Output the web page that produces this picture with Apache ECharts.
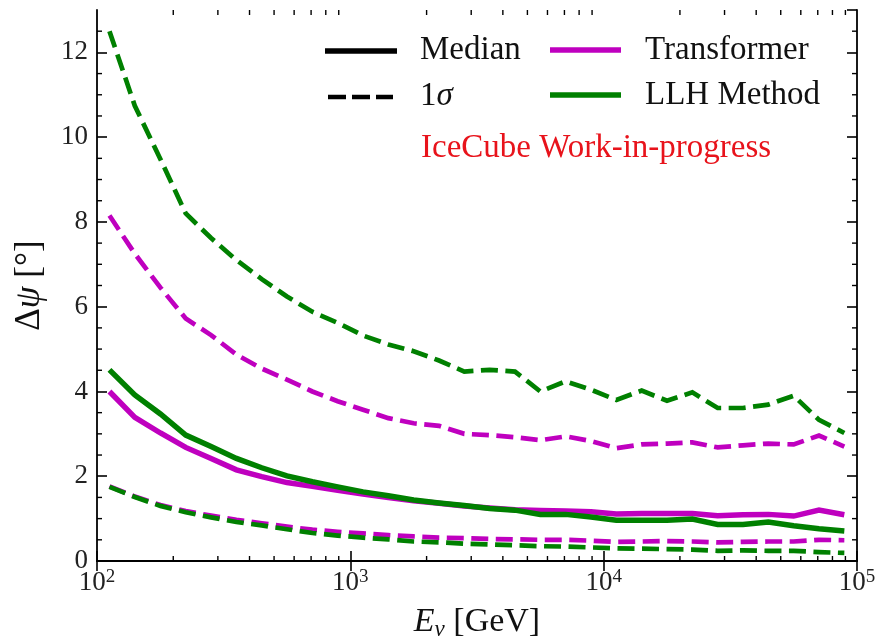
<!DOCTYPE html>
<html>
<head>
<meta charset="utf-8">
<script src="https://cdn.jsdelivr.net/npm/echarts@6/dist/echarts.min.js"></script>
<style>
  html, body { margin: 0; padding: 0; background: #ffffff; }
  #chart { width: 879px; height: 638px; }
</style>
</head>
<body>
<div id="chart"></div>
<script>
// Neutrino energy bin centres [GeV]
const energy = [112, 141, 178, 224, 282, 355, 447, 562, 708, 891,
  1122, 1413, 1778, 2239, 2818, 3548, 4467, 5623, 7079, 8913,
  11220, 14125, 17783, 22387, 28184, 35481, 44668, 56234, 70795, 89125];

// Transformer: median and 1-sigma band edges of the opening angle [deg]
const transformerMedian = [4.00, 3.39, 3.02, 2.68, 2.42, 2.15, 1.99, 1.85, 1.76, 1.67,
  1.58, 1.50, 1.42, 1.36, 1.30, 1.25, 1.21, 1.19, 1.18, 1.16,
  1.11, 1.12, 1.12, 1.12, 1.07, 1.09, 1.10, 1.06, 1.20, 1.09];
const transformerUpper = [8.15, 7.25, 6.45, 5.72, 5.33, 4.87, 4.54, 4.28, 4.00, 3.77,
  3.57, 3.37, 3.25, 3.19, 3.00, 2.97, 2.92, 2.85, 2.94, 2.83,
  2.66, 2.75, 2.77, 2.80, 2.68, 2.73, 2.77, 2.75, 2.96, 2.70];
const transformerLower = [1.76, 1.52, 1.32, 1.18, 1.07, 0.97, 0.89, 0.81, 0.74, 0.69,
  0.65, 0.61, 0.58, 0.55, 0.54, 0.52, 0.51, 0.50, 0.50, 0.48,
  0.45, 0.46, 0.47, 0.46, 0.44, 0.45, 0.46, 0.46, 0.50, 0.49];

// LLH method: median and 1-sigma band edges [deg]
const llhMedian = [4.51, 3.92, 3.47, 2.97, 2.70, 2.42, 2.20, 2.01, 1.87, 1.75,
  1.63, 1.54, 1.44, 1.37, 1.31, 1.24, 1.20, 1.10, 1.10, 1.04,
  0.96, 0.96, 0.96, 0.99, 0.86, 0.86, 0.92, 0.83, 0.76, 0.71];
const llhUpper = [12.50, 10.74, 9.48, 8.20, 7.62, 7.10, 6.65, 6.24, 5.88, 5.62,
  5.32, 5.11, 4.95, 4.73, 4.47, 4.51, 4.47, 4.00, 4.24, 4.04,
  3.80, 4.02, 3.78, 3.98, 3.61, 3.61, 3.69, 3.90, 3.33, 3.02];
const llhLower = [1.75, 1.51, 1.30, 1.15, 1.03, 0.92, 0.84, 0.75, 0.66, 0.60,
  0.55, 0.51, 0.46, 0.44, 0.41, 0.39, 0.37, 0.35, 0.34, 0.32,
  0.30, 0.29, 0.28, 0.27, 0.24, 0.25, 0.24, 0.24, 0.21, 0.19];

// Minor tick positions
const xMinorTicks = [200, 300, 400, 500, 600, 700, 800, 900,
  2000, 3000, 4000, 5000, 6000, 7000, 8000, 9000,
  20000, 30000, 40000, 50000, 60000, 70000, 80000, 90000];
const yMinorTicks = [0.5, 1, 1.5, 2.5, 3, 3.5, 4.5, 5, 5.5, 6.5, 7, 7.5,
  8.5, 9, 9.5, 10.5, 11, 11.5, 12.5];

const SERIF = '"Liberation Serif", "DejaVu Serif", serif';
const MAGENTA = '#bf00bf';
const GREEN = '#008000';
const LW_SOLID = 5.5;
const LW_DASH = 4.7;
const DASH = [17, 7.5];

function pairs(ys) { return energy.map((e, i) => [e, ys[i]]); }

function lineSeries(name, ys, color, dashed) {
  return {
    name: name,
    type: 'line',
    data: pairs(ys),
    showSymbol: false,
    symbol: 'none',
    smooth: false,
    silent: true,
    animation: false,
    lineStyle: {
      color: color,
      width: dashed ? LW_DASH : LW_SOLID,
      type: dashed ? DASH : 'solid',
      cap: 'butt',
      join: 'miter'
    },
    z: 3
  };
}

const axisLine = { show: true, lineStyle: { color: '#000', width: 1.8 } };

const chart = echarts.init(document.getElementById('chart'), null, { renderer: 'canvas' });

chart.setOption({
  backgroundColor: '#ffffff',
  animation: false,
  grid: { left: 97, right: 22, top: 10, bottom: 77, containLabel: false, outerBoundsMode: 'none' },
  xAxis: [
    {
      type: 'log', logBase: 10, min: 100, max: 100000,
      position: 'bottom',
      axisLine: axisLine,
      axisTick: { show: true, inside: true, length: 10, lineStyle: { color: '#000', width: 1.6 } },
      splitLine: { show: false },
      axisLabel: {
        margin: 7,
        formatter: v => '{b|10}{s|' + Math.round(Math.log10(v)) + '}',
        rich: {
          b: { fontFamily: SERIF, fontSize: 27, color: '#222', lineHeight: 30 },
          s: { fontFamily: SERIF, fontSize: 19, color: '#222', lineHeight: 19, verticalAlign: 'top' }
        }
      },
      name: '{i|E}{sub|ν}{n| [GeV]}',
      nameLocation: 'middle',
      nameGap: 42,
      nameTextStyle: {
        rich: {
          i: { fontFamily: SERIF, fontStyle: 'italic', fontSize: 34, color: '#111', lineHeight: 38 },
          sub: { fontFamily: SERIF, fontStyle: 'italic', fontSize: 23, color: '#111', lineHeight: 23, verticalAlign: 'bottom' },
          n: { fontFamily: SERIF, fontSize: 34, color: '#111', lineHeight: 38 }
        }
      }
    },
    {
      type: 'log', logBase: 10, min: 100, max: 100000,
      position: 'top',
      axisLine: axisLine,
      axisTick: { show: true, inside: true, length: 10, lineStyle: { color: '#000', width: 1.6 } },
      axisLabel: { show: false },
      splitLine: { show: false }
    }
  ],
  yAxis: [
    {
      type: 'value', min: 0, max: 13, interval: 2,
      position: 'left',
      axisLine: axisLine,
      axisTick: { show: true, inside: true, length: 10, lineStyle: { color: '#000', width: 1.6 } },
      splitLine: { show: false },
      axisLabel: {
        margin: 9, showMaxLabel: false,
        fontFamily: SERIF, fontSize: 27, color: '#222'
      },
      name: '{d|Δ}{p|ψ}{n| [°]}',
      nameLocation: 'middle',
      nameRotate: 90,
      nameGap: 50,
      nameTextStyle: {
        rich: {
          d: { fontFamily: SERIF, fontSize: 35, color: '#111' },
          p: { fontFamily: SERIF, fontStyle: 'italic', fontSize: 35, color: '#111' },
          n: { fontFamily: SERIF, fontSize: 35, color: '#111' }
        }
      }
    },
    {
      type: 'value', min: 0, max: 13, interval: 2,
      position: 'right',
      axisLine: axisLine,
      axisTick: { show: true, inside: true, length: 10, lineStyle: { color: '#000', width: 1.6 } },
      axisLabel: { show: false },
      splitLine: { show: false }
    }
  ],
  series: [
    lineSeries('Transformer 1σ upper', transformerUpper, MAGENTA, true),
    lineSeries('Transformer median', transformerMedian, MAGENTA, false),
    lineSeries('Transformer 1σ lower', transformerLower, MAGENTA, true),
    lineSeries('LLH 1σ upper', llhUpper, GREEN, true),
    lineSeries('LLH median', llhMedian, GREEN, false),
    lineSeries('LLH 1σ lower', llhLower, GREEN, true),
    {
      // minor ticks on the bottom and top frame edges (log spaced)
      type: 'custom',
      silent: true,
      animation: false,
      clip: false,
      data: xMinorTicks.map(v => [v, 1]),
      renderItem: (params, api) => {
        const cs = params.coordSys;
        const px = api.coord([api.value(0), 1])[0];
        const st = { stroke: '#000', lineWidth: 1.4 };
        return {
          type: 'group',
          children: [
            { type: 'line', shape: { x1: px, y1: cs.y + cs.height, x2: px, y2: cs.y + cs.height - 5 }, style: st },
            { type: 'line', shape: { x1: px, y1: cs.y, x2: px, y2: cs.y + 5 }, style: st }
          ]
        };
      },
      z: 4
    },
    {
      // minor ticks on the left and right frame edges
      type: 'custom',
      silent: true,
      animation: false,
      clip: false,
      data: yMinorTicks.map(v => [1000, v]),
      renderItem: (params, api) => {
        const cs = params.coordSys;
        const py = api.coord([1000, api.value(1)])[1];
        const st = { stroke: '#000', lineWidth: 1.4 };
        return {
          type: 'group',
          children: [
            { type: 'line', shape: { x1: cs.x, y1: py, x2: cs.x + 5, y2: py }, style: st },
            { type: 'line', shape: { x1: cs.x + cs.width, y1: py, x2: cs.x + cs.width - 5, y2: py }, style: st }
          ]
        };
      },
      z: 4
    }
  ],
  graphic: [
    // legend: line styles
    { type: 'line', shape: { x1: 325, y1: 51, x2: 397, y2: 51 }, style: { stroke: '#000', lineWidth: LW_SOLID } },
    { type: 'line', shape: { x1: 328, y1: 97, x2: 393, y2: 97 }, style: { stroke: '#000', lineWidth: LW_DASH, lineDash: [18, 6] } },
    { type: 'text', left: 420, top: 34, style: { text: 'Median', font: '33px ' + SERIF, fill: '#111' } },
    {
      type: 'text', left: 420, top: 80,
      style: {
        text: '{a|1}{b|σ}',
        rich: {
          a: { font: '33px ' + SERIF, fill: '#111' },
          b: { font: 'italic 33px ' + SERIF, fill: '#111' }
        }
      }
    },
    // legend: methods
    { type: 'line', shape: { x1: 550, y1: 50, x2: 621, y2: 50 }, style: { stroke: MAGENTA, lineWidth: LW_SOLID } },
    { type: 'line', shape: { x1: 550, y1: 95, x2: 621, y2: 95 }, style: { stroke: GREEN, lineWidth: LW_SOLID } },
    { type: 'text', left: 645, top: 34, style: { text: 'Transformer', font: '33px ' + SERIF, fill: '#111' } },
    { type: 'text', left: 645, top: 79, style: { text: 'LLH Method', font: '33px ' + SERIF, fill: '#111' } },
    { type: 'text', left: 421, top: 132, style: { text: 'IceCube Work-in-progress', font: '33px ' + SERIF, fill: '#e8131b' } }
  ]
});
</script>
</body>
</html>
